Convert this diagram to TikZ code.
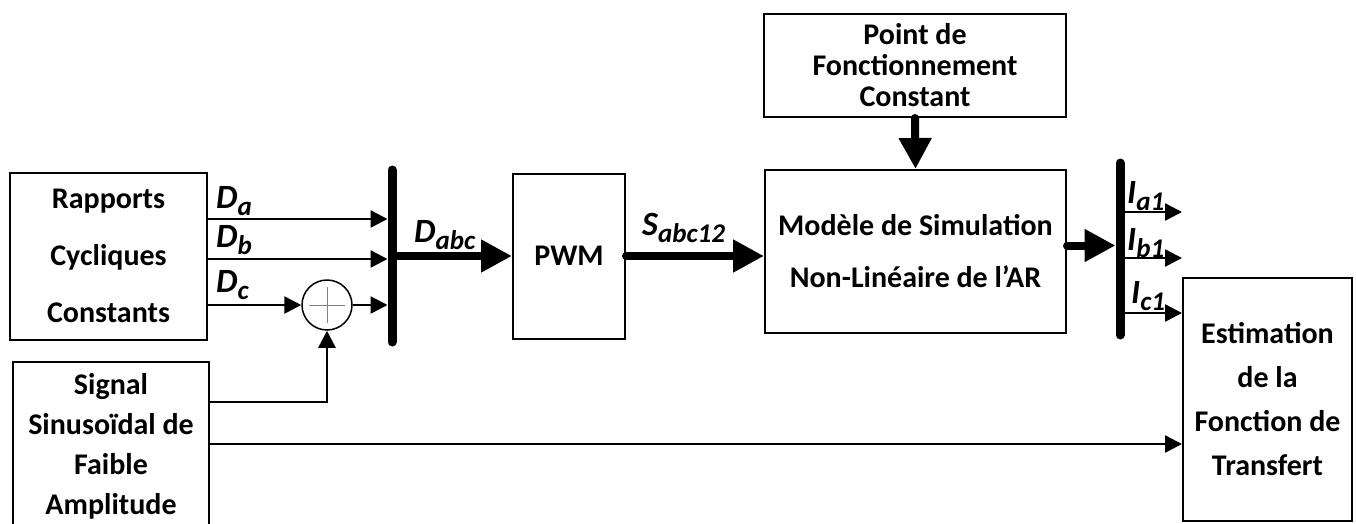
\documentclass[tikz,border=0pt]{standalone}
\usepackage{fontspec}
\setmainfont{Carlito}
\usetikzlibrary{arrows.meta,positioning,calc}
\newcommand{\sigl}[2]{#1\raisebox{-7pt}{\fontsize{27}{27}\selectfont #2}}

\begin{document}
\begin{tikzpicture}[x = 1pt, y = -1pt]
  \tikzset{
    blok/.style = {draw, line width = 2pt, align = center, inner sep = 0pt},
    txt/.style = {font = \bfseries\fontsize{30}{#1}\selectfont},
    fil/.style = {line width = 2.5pt, -{Triangle[length = 17pt, width = 17pt]}},
    gros/.style = {line width = 8pt, line cap = round, -{Triangle[length = 31pt, width = 31pt]}},
    bus/.style = {line width = 9pt, line cap = round},
    lab/.style = {font = \bfseries\itshape\fontsize{34}{34}\selectfont, inner sep = 0pt, anchor = base west}
  }
  \useasboundingbox (0,0) rectangle (1356,523);

  % blocs
  \node[blok, txt = 57, minimum width = 197pt, minimum height = 167pt] (rap) at (108.5,256) {Rapports\\Cycliques\\Constants};
  \node[blok, txt = 40, minimum width = 196pt, minimum height = 168pt] (sig) at (111,446) {Signal\\Sinusoïdal de\\Faible\\Amplitude};
  \node[blok, txt = 31, minimum width = 112pt, minimum height = 165pt] (pwm) at (569,256) {PWM};
  \node[blok, txt = 31, minimum width = 302pt, minimum height = 103pt] (pt) at (915,65.5) {Point de\\Fonctionnement\\Constant};
  \node[blok, txt = 52, minimum width = 301pt, minimum height = 163pt] (mod) at (915.5,251.5) {Modèle de Simulation\\Non-Linéaire de l’AR};
  \node[blok, txt = 44, minimum width = 169pt, minimum height = 243pt] (est) at (1267.5,399.5) {Estimation\\de la\\Fonction de\\Transfert};
  \node[draw, circle, line width = 1.5pt, minimum size = 50pt, inner sep = 0pt] (som) at (327,305) {};
  \draw[gray, line width = 0.8pt] (som.center) ++(-18,0) --++(36,0) (som.center) ++(0,-18) --++(0,36);

  % barres
  \coordinate (b1t) at (392,170); \coordinate (b1b) at (392,342);
  \coordinate (b2t) at (1120,163); \coordinate (b2b) at (1120,335);
  \draw[bus] (b1t) -- (b1b);
  \draw[bus] (b2t) -- (b2b);

  % entrees
  \draw[fil, shorten > = 4.5pt] (rap.east |- 0,219) -- (b1t |- 0,219);
  \draw[fil, shorten > = 4.5pt] (rap.east |- 0,259) -- (b1t |- 0,259);
  \draw[fil] (rap.east |- som) -- (som.west);
  \draw[fil, shorten > = 4.5pt] (som.east) -- (b1t |- som);
  \draw[fil] (sig.east |- 0,402) -| (som.south);
  \draw[fil] (sig.east |- 0,444) -- (est.west |- 0,444);

  % signaux epais
  \draw[gros] (b1t |- pwm) -- (pwm.west);
  \draw[gros] (pwm.east) -- (mod.west |- pwm.east);
  \draw[gros] (pt.south) -- (mod.north);
  \draw[gros] ($(mod.east)+(0,-6)$) -- ($(b2t |- mod.east)+(-4.5,-6)$);

  % sorties
  \draw[fil] (b2t |- 0,212) -- (est.west |- 0,212);
  \draw[fil] (b2t |- 0,258) -- (est.west |- 0,258);
  \draw[fil] (b2t |- 0,313) -- (est.west |- 0,313);

  % etiquettes
  \node[lab] (la) at (216,208) {\sigl{D}{a}};
  \node[lab] (lb) at (216,247) {\sigl{D}{b}};
  \node[lab] (lc) at (216,292) {\sigl{D}{c}};
  \node[lab] (labc) at (414,242) {\sigl{D}{abc}};
  \node[lab] (ls) at (642,235) {\sigl{S}{abc12}};
  \node[lab] (ia) at (1127,203) {\sigl{I}{a1}};
  \node[lab] (ib) at (1127,250) {\sigl{I}{b1}};
  \node[lab] (ic) at (1131,303) {\sigl{I}{c1}};
\end{tikzpicture}
\end{document}
